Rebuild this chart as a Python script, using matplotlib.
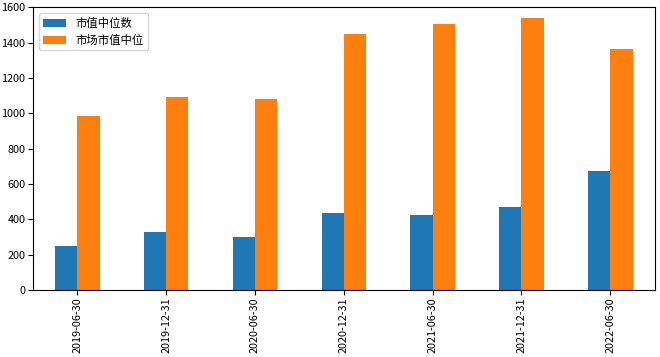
import matplotlib.pyplot as plt
import numpy as np

plt.rcParams['font.family'] = ['Noto Sans CJK SC', 'DejaVu Sans']
plt.rcParams['axes.unicode_minus'] = False

dates = ['2019-06-30', '2019-12-31', '2020-06-30', '2020-12-31',
         '2021-06-30', '2021-12-31', '2022-06-30']
median_mv = [247, 327, 297, 438, 425, 472, 676]
market_median = [983, 1093, 1084, 1451, 1505, 1539, 1364]

fig = plt.figure(figsize=(6.6, 3.57), dpi=100)
ax = fig.add_axes([0.05, 0.188, 0.942, 0.791])

x = np.arange(len(dates))
w = 0.25
ax.bar(x - w / 2, median_mv, w, color='#1f77b4', label='市值中位数')
ax.bar(x + w / 2, market_median, w, color='#ff7f0e', label='市场市值中位')

ax.set_xlim(-0.5, len(dates) - 0.5)
ax.set_ylim(0, 1600)
ax.set_xticks(x)
ax.set_xticklabels(dates, rotation=90, fontsize=7.8)
ax.tick_params(axis='y', labelsize=7.8, pad=2)
ax.tick_params(axis='x', pad=2)
ax.legend(loc='upper left', fontsize=8.2)

fig.savefig('out.png', dpi=100)
